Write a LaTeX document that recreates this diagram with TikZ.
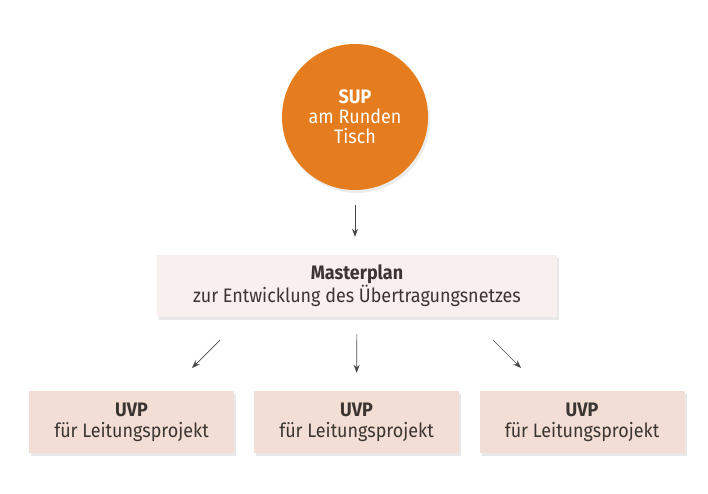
\documentclass[tikz,border=0pt]{standalone}
\usepackage{fontspec}
\setmainfont{Fira Sans}[FakeStretch=0.92]
\usetikzlibrary{shadows,arrows.meta}
\definecolor{suporange}{HTML}{E57C1E}
\definecolor{planfill}{HTML}{F8F0EE}
\definecolor{uvpfill}{HTML}{F3DED6}
\definecolor{txtgray}{HTML}{3B3431}
\definecolor{arrgray}{HTML}{4A4A4A}
\begin{document}
\begin{tikzpicture}[x=1pt, y=-1pt,
  box/.style={rectangle, minimum height=62pt, align=center, text=txtgray, font=\fontsize{19.5}{21}\selectfont, drop shadow={shadow xshift=2pt, shadow yshift=-3pt, opacity=.18}},
  pfeil/.style={draw=arrgray, line width=.7pt, -{Stealth[length=8pt, width=6pt]}}]
\useasboundingbox[fill=white] (0,0) rectangle (708,493);
\node[circle, minimum size=146pt, fill=suporange, text=white, align=center, font=\fontsize{19.5}{20}\selectfont, drop shadow={shadow xshift=2pt, shadow yshift=-3pt, opacity=.15}] (sup) at (355,117){\textbf{SUP}\\am Runden\\Tisch};
\node[box, fill=planfill, minimum width=400pt] (plan) at (357,286){\textbf{Masterplan}\\zur Entwicklung des Übertragungsnetzes};
\node[box, fill=uvpfill, minimum width=205pt] (uvp1) at (131.5,422){\textbf{UVP}\\für Leitungsprojekt};
\node[box, fill=uvpfill, minimum width=205pt] (uvp2) at (356.5,422){\textbf{UVP}\\für Leitungsprojekt};
\node[box, fill=uvpfill, minimum width=205pt] (uvp3) at (582,422){\textbf{UVP}\\für Leitungsprojekt};
\coordinate (p1a) at (220,340);
\coordinate (p1b) at (192,368);
\coordinate (p3a) at (493,340);
\coordinate (p3b) at (521,368);
\draw[pfeil, shorten <=15pt, shorten >=18pt](sup) -- (sup |- plan.north);
\draw[pfeil](p1a) -- (p1b);
\draw[pfeil, shorten <=17pt, shorten >=18pt](plan.south) -- (uvp2.north);
\draw[pfeil](p3a) -- (p3b);
\end{tikzpicture}
\end{document}
